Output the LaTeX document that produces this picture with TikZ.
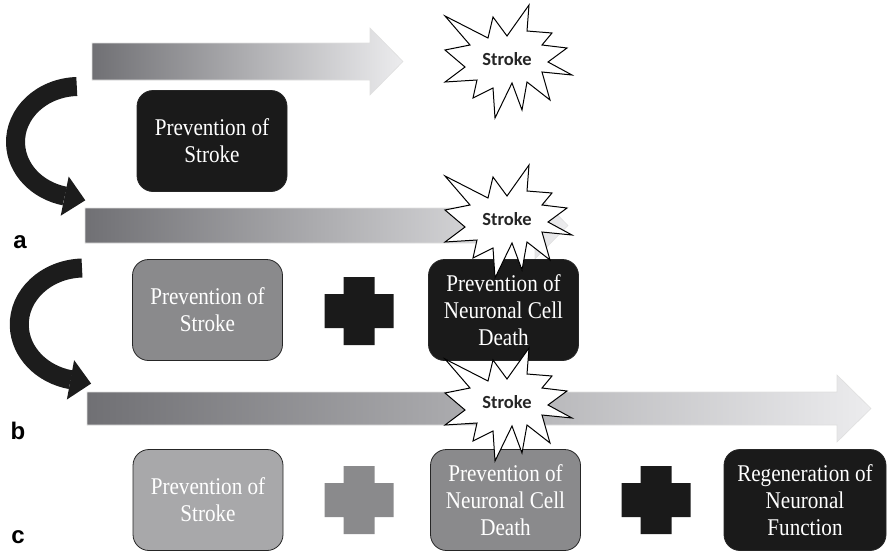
\documentclass[tikz,border=0pt]{standalone}
\usepackage{fontspec}
\newfontfamily\boxfont{Liberation Serif}[FakeStretch=0.88]
\newfontfamily\starfont{Carlito}
\newfontfamily\labfont{Liberation Sans}
\definecolor{arrowdark}{RGB}{112,112,116}
\definecolor{arrowlight}{RGB}{236,236,238}
\definecolor{curveblack}{RGB}{28,28,28}
\definecolor{boxblack}{RGB}{26,26,26}
\definecolor{boxmid}{RGB}{138,138,140}
\definecolor{boxlight}{RGB}{168,168,170}
\tikzset{
  flow/.style={draw=gray!25, line width=0.6pt, left color=arrowdark, right color=arrowlight},
  curv/.style={line width=19pt, draw=curveblack},
  curvhead/.style={fill=curveblack},
  box/.style={rectangle, rounded corners=16pt, minimum width=150pt, minimum height=101pt,
    inner sep=0pt, align=center, text=white, draw=black!85, line width=0.8pt,
    font=\boxfont\fontsize{24}{27}\selectfont},
  burst/.style={fill=white, draw=black, line width=1pt, line join=miter},
  bursttext/.style={font=\starfont\bfseries\fontsize{18.5}{21}\selectfont, text=black!85},
  lab/.style={font=\labfont\bfseries\fontsize{24}{26}\selectfont},
  burstpic/.pic={\path[burst] (-63,-46) -- (-20,-24) -- (-15,-45) -- (-1,-26) -- (21,-57) -- (19,-31)
    -- (44,-29) -- (34,-17) -- (59,-14) -- (40,0) -- (64,13) -- (34,10) -- (42,38) -- (19,20)
    -- (14,48) -- (4,21) -- (-13,56) -- (-15,26) -- (-35,36) -- (-31,18) -- (-63,20) -- (-43,5)
    -- (-63,-12) -- (-38,-17) -- cycle;},
  plusshape/.pic={\path[pic actions] (-15.5,-34) -- (15.5,-34) -- (15.5,-17) -- (34.5,-17) -- (34.5,17)
    -- (15.5,17) -- (15.5,34) -- (-15.5,34) -- (-15.5,17) -- (-34.5,17) -- (-34.5,-17) -- (-15.5,-17) -- cycle;}
}
\begin{document}
\begin{tikzpicture}[x=1pt,y=-1pt]
\useasboundingbox (0,0) rectangle (888,552);
% horizontal time arrows
\path[flow] (92,43) -- (370,43) -- (370,28) -- (403,61.5) -- (370,95) -- (370,80) -- (92,80) -- cycle;
\path[flow] (85,208) -- (535,208) -- (535,192) -- (568,225.5) -- (535,259) -- (535,243) -- (85,243) -- cycle;
\path[flow] (87,392) -- (837,392) -- (837,375) -- (871,408.5) -- (837,442) -- (837,425) -- (87,425) -- cycle;
% curved arrows
\draw[curv] (76.8,86.5) arc[start angle=268, end angle=103, x radius=63.5, y radius=55.5];
\fill[curvhead] (68.7,176.5) -- (85.3,200.3) -- (60.7,215.7) -- cycle;
\draw[curv] (82,268) arc[start angle=268, end angle=102, x radius=65, y radius=56.5];
\fill[curvhead] (74.1,360.1) -- (91.1,383.6) -- (66.9,399.5) -- cycle;
% boxes
\node[box, fill=boxblack] (a1) at (212,141) {Prevention of\\Stroke};
\node[box, fill=boxmid] (b1) at (207.5,310) {Prevention of\\Stroke};
\node[box, fill=boxblack] (b2) at (503.5,310) {Prevention of\\Neuronal Cell\\Death};
\node[box, fill=boxlight] (c1) at (208,500) {Prevention of\\Stroke};
\node[box, fill=boxmid] (c2) at (505.5,500) {Prevention of\\Neuronal Cell\\Death};
\node[box, fill=boxblack, minimum width=162pt] (c3) at (805,500) {Regeneration of\\Neuronal\\Function};
% plus signs
\pic[fill=boxblack] (pb) at (359,311) {plusshape};
\pic[fill=boxmid] (pc1) at (359,500) {plusshape};
\pic[fill=boxblack] (pc2) at (656,500) {plusshape};
% stroke bursts
\pic (st1) at (508,62) {burstpic};
\node[bursttext] (s1) at (507,59) {Stroke};
\pic (st2) at (508,222) {burstpic};
\node[bursttext] (s2) at (507,219) {Stroke};
\pic (st3) at (508,405) {burstpic};
\node[bursttext] (s3) at (507,402) {Stroke};
% labels
\node[lab] (la) at (20,242) {a};
\node[lab] (lb) at (18,431) {b};
\node[lab] (lc) at (18,537) {c};
\end{tikzpicture}
\end{document}
